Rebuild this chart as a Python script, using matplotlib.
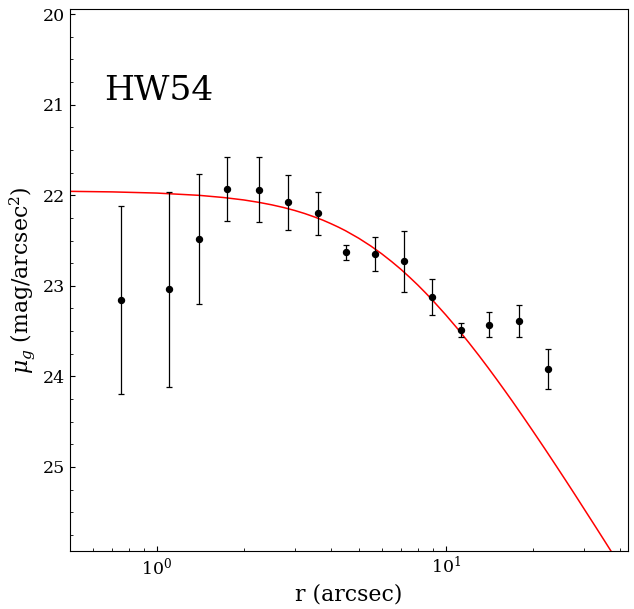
import numpy as np
import matplotlib
matplotlib.use('Agg')
import matplotlib.pyplot as plt
from matplotlib.ticker import MultipleLocator

plt.rcParams['font.family'] = 'DejaVu Serif'
plt.rcParams['mathtext.fontset'] = 'dejavuserif'

r_obs = [0.752, 1.103, 1.401, 1.747, 2.259, 2.847, 3.615, 4.519, 5.69, 7.17, 8.97, 11.3, 14.13, 17.93, 22.6]
mu_obs = [23.16, 23.04, 22.48, 21.93, 21.94, 22.08, 22.20, 22.63, 22.65, 22.73, 23.12, 23.49, 23.43, 23.39, 23.92]
mu_err = [1.04, 1.08, 0.72, 0.35, 0.36, 0.30, 0.24, 0.086, 0.185, 0.34, 0.20, 0.08, 0.136, 0.175, 0.225]

# fitted model curve
r_fit = [0.5, 0.7, 1.0, 1.4, 1.7, 2.0, 2.25, 2.5, 2.75, 3.0, 3.25, 3.5, 3.75, 4.0, 4.25, 4.5,
         5.0, 5.5, 6.0, 6.5, 7.0, 7.5, 8.0, 8.5, 9.0, 10.0, 11.0, 12.0, 13.0, 14.0, 15.0, 16.0,
         17.0, 18.5, 20.0, 22.0, 24.0, 26.0, 28.0, 30.5, 33.0, 35.5, 38.0, 42.0]
mu_fit = [21.957, 21.963, 21.976, 22.001, 22.025, 22.052, 22.078, 22.106, 22.136, 22.168, 22.202,
          22.238, 22.274, 22.313, 22.352, 22.392, 22.475, 22.560, 22.646, 22.733, 22.819, 22.906,
          22.991, 23.076, 23.159, 23.321, 23.476, 23.625, 23.767, 23.903, 24.033, 24.157, 24.275,
          24.444, 24.602, 24.798, 24.980, 25.149, 25.307, 25.492, 25.662, 25.821, 25.970, 26.19]

galaxy = 'HW54'

fig = plt.figure(figsize=(6.34, 6.09), dpi=100)
ax = fig.add_axes([0.110, 0.095, 0.8805, 0.890])

ax.plot(r_fit, mu_fit, color='red', lw=1.1, zorder=2)
ax.errorbar(r_obs, mu_obs, yerr=mu_err, fmt='o', color='black', ms=4.3,
            elinewidth=0.9, capsize=2.5, capthick=0.9, zorder=3)

ax.set_xscale('log')
ax.set_xlim(0.5, 42.7)
ax.set_ylim(25.93, 19.945)
ax.yaxis.set_major_locator(MultipleLocator(1))
ax.yaxis.set_minor_locator(MultipleLocator(0.25))

ax.tick_params(which='both', direction='in', top=False, right=False, labelsize=12.5)
ax.tick_params(which='major', length=3.5, width=0.8)
ax.tick_params(which='minor', length=2, width=0.6)

ax.set_xlabel('r (arcsec)', fontsize=15.8)
ax.set_ylabel(r'$\mu_g$ (mag/arcsec$^2$)', fontsize=15.8)

ax.text(0.061, 0.832, galaxy, transform=ax.transAxes, fontsize=24.8, va='baseline')

plt.savefig('out.png', dpi=100)
